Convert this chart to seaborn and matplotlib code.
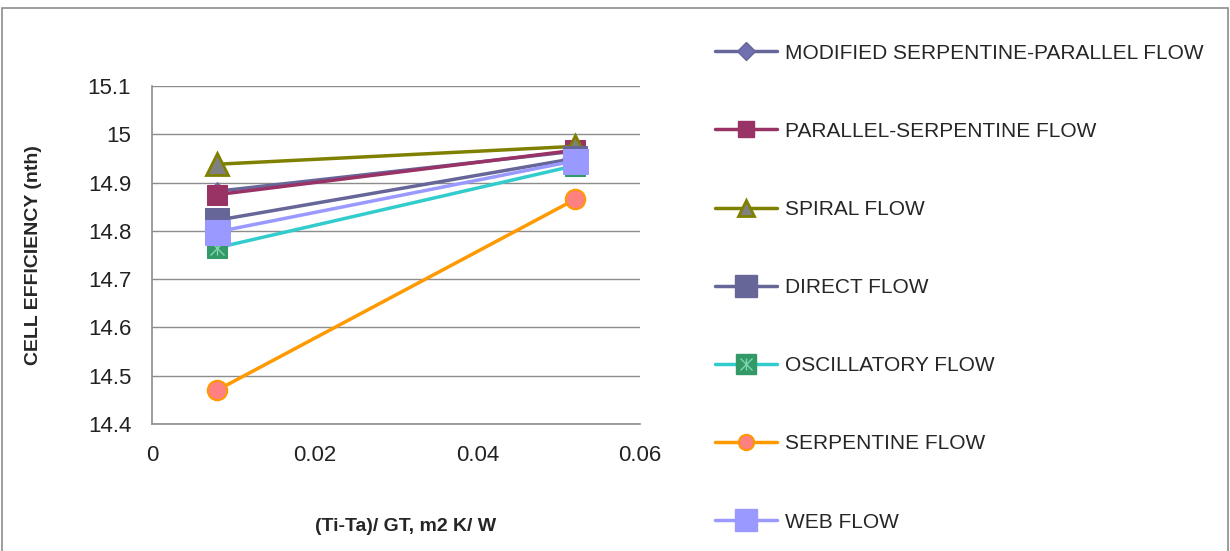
import matplotlib
matplotlib.use("Agg")
import matplotlib.pyplot as plt
import seaborn as sns
import numpy as np
from matplotlib.patches import Rectangle
from matplotlib.lines import Line2D
from matplotlib.legend_handler import HandlerTuple

sns.set_theme(style="white")
plt.rcParams['font.family'] = ['Liberation Sans', 'DejaVu Sans']

x_vals = [0.008, 0.052]
series_names = [
    "MODIFIED SERPENTINE-PARALLEL FLOW",
    "PARALLEL-SERPENTINE FLOW",
    "SPIRAL FLOW",
    "DIRECT FLOW",
    "OSCILLATORY FLOW",
    "SERPENTINE FLOW",
    "WEB FLOW",
]
modified_sp = [14.882, 14.965]
parallel_sp = [14.875, 14.967]
spiral = [14.938, 14.975]
direct = [14.822, 14.950]
oscillatory = [14.765, 14.935]
serpentine = [14.470, 14.865]
web = [14.798, 14.945]
series_values = [modified_sp, parallel_sp, spiral, direct, oscillatory, serpentine, web]
y_ticks = [14.4, 14.5, 14.6, 14.7, 14.8, 14.9, 15.0, 15.1]
x_ticks = [0, 0.02, 0.04, 0.06]

styles = [
    dict(color="#666699", marker="D", markersize=9, markerfacecolor="#7070b0", markeredgecolor="#666699"),
    dict(color="#993366", marker="s", markersize=14, markerfacecolor="#993366", markeredgecolor="#993366"),
    dict(color="#808000", marker="^", markersize=16, markerfacecolor="#808080", markeredgecolor="#808000", markeredgewidth=2),
    dict(color="#666699", marker="s", markersize=17, markerfacecolor="#666699", markeredgecolor="#666699"),
    dict(color="#33CCCC", marker="s", markersize=15, markerfacecolor="#339966", markeredgecolor="#339966"),
    dict(color="#FF9900", marker="o", markersize=14, markerfacecolor="#FF8080", markeredgecolor="#FF9900", markeredgewidth=1.5),
    dict(color="#9999FF", marker="s", markersize=18, markerfacecolor="#9999FF", markeredgecolor="#9999FF"),
]
legend_ms = [9, 11, 12, 16, 15, 11, 16]

fig = plt.figure(figsize=(12.3, 5.51), dpi=100)
ax = fig.add_axes([0.1236, 0.2305, 0.3967, 0.6134])

handles = []
for i, (name, vals, st) in enumerate(zip(series_names, series_values, styles)):
    sns.lineplot(x=x_vals, y=vals, ax=ax, linewidth=2.5, zorder=3 + i, **st)
    hst = dict(st)
    hst["markersize"] = legend_ms[i]
    h = Line2D([], [], linewidth=2.5, **hst)
    if name == "OSCILLATORY FLOW":
        ax.plot(x_vals, vals, linestyle="none", marker="x", markersize=10,
                markeredgecolor="#7fd6b0", markeredgewidth=1, zorder=3 + i)
        ax.plot(x_vals, vals, linestyle="none", marker="|", markersize=10,
                markeredgecolor="#7fd6b0", markeredgewidth=1, zorder=3 + i)
        hx = Line2D([], [], linestyle="none", marker="x", markersize=9,
                    markeredgecolor="#7fd6b0", markeredgewidth=1)
        hp = Line2D([], [], linestyle="none", marker="|", markersize=9,
                    markeredgecolor="#7fd6b0", markeredgewidth=1)
        h = (h, hx, hp)
    handles.append(h)

ax.set_xlim(0, 0.06)
ax.set_ylim(14.4, 15.1)
ax.set_xticks(x_ticks)
ax.set_xticklabels(["0", "0.02", "0.04", "0.06"])
ax.set_yticks(y_ticks)
ax.set_yticklabels(["14.4", "14.5", "14.6", "14.7", "14.8", "14.9", "15", "15.1"])
ax.tick_params(axis="both", labelsize=16, colors="#222222", length=7, width=1,
               direction="out", color="#888888", pad=8)
ax.tick_params(axis="both", labelcolor="#222222")
ax.grid(axis="y", color="#8c8c8c", linewidth=1)
ax.grid(axis="x", visible=False)
for s in ["top", "right"]:
    ax.spines[s].set_visible(False)
for s in ["left", "bottom"]:
    ax.spines[s].set_color("#8c8c8c")
    ax.spines[s].set_linewidth(1.2)

ax.set_ylabel("CELL EFFICIENCY (nth)", fontsize=14, fontweight="bold")
ax.yaxis.set_label_coords(-0.225, 0.5)
fig.text(0.33, 0.045, "(Ti-Ta)/ GT, m2 K/ W", fontsize=14, fontweight="bold", ha="center", va="center")

leg = fig.legend(handles, series_names, loc="upper left", bbox_to_anchor=(0.566, 0.955),
                 frameon=False, fontsize=15, handlelength=3.0, labelspacing=2.84,
                 handletextpad=0.35, handler_map={tuple: HandlerTuple(ndivide=1, pad=0)})

fig.patches.append(Rectangle((0.002, -0.01), 0.996, 0.995, transform=fig.transFigure,
                             fill=False, edgecolor="#8c8c8c", linewidth=1.2))

fig.savefig("out.png", dpi=100)
